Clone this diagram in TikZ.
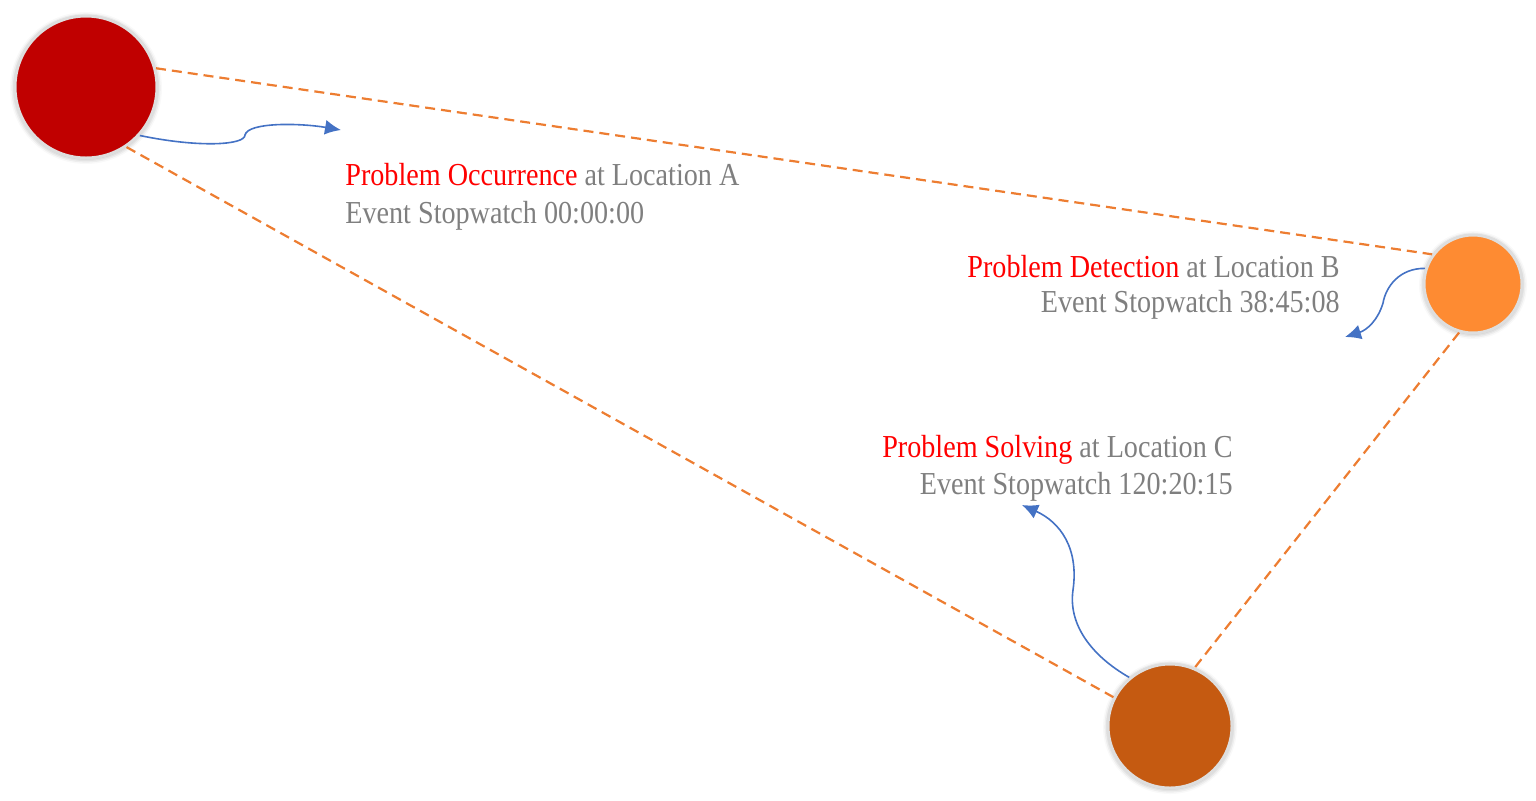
\documentclass[tikz,border=0pt]{standalone}
\usepackage{fontspec}
\setmainfont{Liberation Serif}
\usetikzlibrary{arrows.meta,shadows.blur}
\definecolor{cA}{RGB}{192,0,0}
\definecolor{cB}{RGB}{254,139,50}
\definecolor{cC}{RGB}{197,90,17}
\definecolor{dashor}{RGB}{237,125,49}
\definecolor{arrblue}{RGB}{68,114,196}
\definecolor{txtgray}{RGB}{127,127,127}
\definecolor{txtred}{RGB}{255,0,0}
\definecolor{ringgray}{RGB}{222,222,222}
\tikzset{
  event/.style={circle, draw=ringgray, line width=1.5pt, inner sep=0pt,
    blur shadow={shadow xshift=0pt, shadow yshift=-0.5pt, shadow blur radius=2.5pt, shadow opacity=35}},
  link/.style={dashor, line width=1.1pt, dash pattern=on 5pt off 3pt},
  flow/.style={arrblue, line width=0.8pt, -{Latex[length=8pt,width=7.5pt]}},
  lbl/.style={inner sep=0pt, font=\fontsize{16}{19}\selectfont, text=txtgray, xscale=0.88},
}
\newcommand{\hl}[1]{\textcolor{txtred}{#1}}
\begin{document}
\begin{tikzpicture}[x=0.5pt,y=-0.5pt]
\useasboundingbox (0,0) rectangle (1536,800);
% event circles
\node[event, fill=cA, minimum size=71pt] (A) at (86,87) {};
\node[event, fill=cB, minimum size=49pt] (B) at (1473,284) {};
\node[event, fill=cC, minimum size=62pt] (C) at (1170,726) {};
% dashed links
\draw[link] (A.15.8) -- (B.144.6);
\draw[link] (A.-56) -- (C.153);
\draw[link] (B.-106) -- (C.67);
% arrows
\coordinate (ea) at (341,130);
\coordinate (eb) at (1345,337);
\coordinate (ec) at (1022,505);
\draw[flow] (A.-42) .. controls (200,148) and (245,145) .. (245,135)
  .. controls (248,122) and (300,123) .. (ea);
\draw[flow] (B.162) .. controls (1400,268) and (1386,286) .. (1383,303)
  .. controls (1378,320) and (1367,330) .. (eb);
\draw[flow] (C.130) .. controls (1092,656) and (1068,625) .. (1073,590)
  .. controls (1079,548) and (1060,522) .. (ec);
% labels
\node[lbl, anchor=base west] (la1) at (345,185) {\hl{Problem Occurrence} at Location A};
\node[lbl, anchor=base west] (la2) at (345,223) {Event Stopwatch 00:00:00};
\node[lbl, anchor=base east] (lb1) at (1340,277) {\hl{Problem Detection} at Location B};
\node[lbl, anchor=base east] (lb2) at (1340,312) {Event Stopwatch 38:45:08};
\node[lbl, anchor=base east] (lc1) at (1233,457) {\hl{Problem Solving} at Location C};
\node[lbl, anchor=base east] (lc2) at (1233,494) {Event Stopwatch 120:20:15};
\end{tikzpicture}
\end{document}
